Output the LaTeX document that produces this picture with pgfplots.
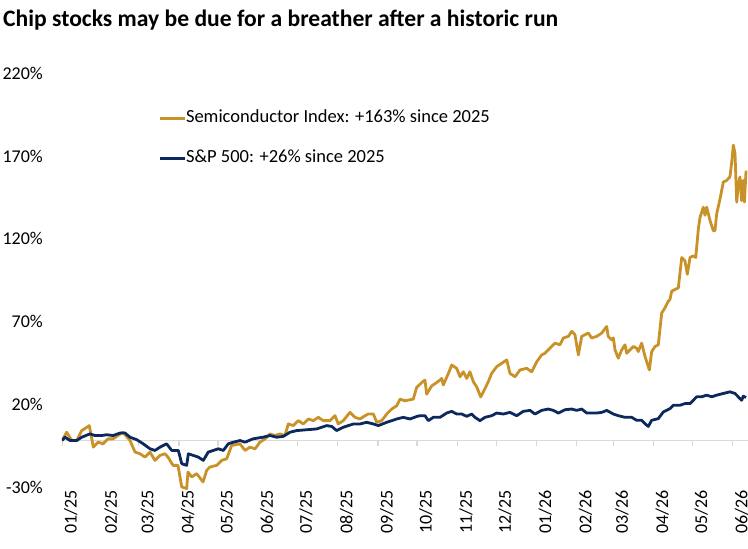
\documentclass[border=0pt]{standalone}
\usepackage{pgfplots}
\pgfplotsset{compat=1.18}
\usepackage{fontspec}
\setmainfont{Carlito}
\definecolor{gold}{RGB}{201,146,40}
\definecolor{navy}{RGB}{12,40,92}
\definecolor{zeroline}{RGB}{217,217,217}
\begin{document}
\begin{tikzpicture}
\useasboundingbox (0,0) rectangle (748pt,549pt);
\node[anchor=base west, inner sep=0pt, font=\fontsize{23.6}{28}\selectfont\bfseries] at (3pt,549pt-26.7pt) {Chip stocks may be due for a breather after a historic run};
\begin{axis}[
  at={(62pt,58.8pt)}, anchor=south west,
  scale only axis, width=686.4pt, height=414pt,
  xmin=0, xmax=528, ymin=-30, ymax=220,
  axis line style={draw=none},
  tick style={draw=none},
  xtick={0,31,59,90,120,151,181,212,243,273,304,334,365,396,424,455,485,516},
  xticklabels={01/25,02/25,03/25,04/25,05/25,06/25,07/25,08/25,09/25,10/25,11/25,12/25,01/26,02/26,03/26,04/26,05/26,06/26},
  xticklabel style={rotate=90, anchor=east, inner sep=0pt, yshift=-11.5pt, text height=0.63em, text depth=0pt, font=\fontsize{18}{21}\selectfont},
  ytick={-30,20,70,120,170,220},
  yticklabels={-30\%,20\%,70\%,120\%,170\%,220\%},
  yticklabel style={anchor=east, inner sep=0pt, xshift=-19pt, text height=0.63em, text depth=0pt, font=\fontsize{18}{21}\selectfont},
  legend style={at={(0.1399,0.850)}, anchor=west, draw=none, fill=none, inner sep=0pt,
    font=\fontsize{18.5}{22}\selectfont, row sep=24pt,
    nodes={inner sep=0pt, text height=12pt, text depth=4pt}},
  legend cell align=left,
  /tikz/every even column/.append style={column sep=5pt},
]
\addplot[zeroline, line width=1.2pt, forget plot] coordinates {(0,0) (528,0)};
\addplot[ycomb, zeroline, line width=1.2pt, forget plot] coordinates {(0,-3.6) (31,-3.6) (59,-3.6) (90,-3.6) (120,-3.6) (151,-3.6) (181,-3.6) (212,-3.6) (243,-3.6) (273,-3.6) (304,-3.6) (334,-3.6) (365,-3.6) (396,-3.6) (424,-3.6) (455,-3.6) (485,-3.6) (516,-3.6)};
\addplot[gold, line width=2.8pt, line join=round, legend image code/.code={\draw[gold, line width=2.8pt] (0pt,0pt) -- (25pt,0pt);}] coordinates {
(0,0) (3.6,5) (7.5,0) (11.3,0) (15.2,6) (21,9) (24.1,-4) (27.9,-1) (31.5,-2) (35.4,1) (39.2,1) (46.9,5) (52.3,0) (56.2,-7) (60,-8) (63.8,-10) (67.7,-7) (71.5,-12) (75.4,-9) (79.2,-8) (81.5,-10) (85.4,-15) (89.2,-15) (92.1,-28) (95.9,-29) (96.9,-19) (99.8,-22) (103.6,-20) (108.5,-25) (111.3,-18) (113.8,-16) (119,-15) (122.8,-12) (126.7,-11) (130.5,-3) (136.9,-2) (140.8,-6) (144.6,-4) (148.5,-5) (152.3,-1) (156.2,1) (160,4) (163.8,3) (167.7,4) (171.5,3) (174.1,10) (177.9,9) (181.8,12) (185.6,10) (189.5,13) (193.3,12) (197.2,14) (201,12) (206.2,12) (210,15) (212.5,10) (216.4,12) (221.5,17) (225.4,14) (229.2,13) (233.1,15) (235.6,16) (239.5,16) (242.1,11) (245.9,12) (249.8,16) (253.6,19) (257.5,21) (260,25) (263.8,24) (270.2,25) (272.8,32) (276.7,35) (279.2,36.5) (280.5,28) (284.4,33) (288.2,35) (290.8,36.5) (292.1,37.5) (293.3,33.5) (297.2,40.5) (299.8,45.6) (303.6,43.6) (306.2,38.5) (308.7,41.5) (311.3,37.5) (313.8,41.5) (316.4,35.5) (319,32.4) (322.1,26.3) (325.4,31.4) (327.9,35.5) (330.5,40.5) (334.4,44.6) (338.2,46.6) (342.1,48.7) (344.6,40.5) (348.5,38.5) (352.3,42.6) (357.5,43.6) (361.3,41.5) (365.2,47.6) (369,51.7) (371.5,52.7) (375.4,55.8) (379.2,58.8) (383.1,57.8) (385.6,61.9) (389.5,62.9) (392.1,65.9) (394.6,63.9) (397.2,51.7) (399.8,62.9) (402.3,63.9) (404.8,64.9) (407.5,61.9) (411.3,62.9) (415.2,64.9) (419,68.9) (420.2,62.8) (422.8,60.8) (424.1,62) (425.4,54.7) (427.9,49.7) (430.5,54.7) (433.1,57.8) (434.4,52.7) (436.9,54.7) (439.5,56.8) (442.1,55.7) (443.3,53.7) (445.9,58.8) (448.5,50.7) (451.8,42.6) (453.6,53.7) (456.2,56.8) (458.7,57.8) (461.3,77) (463.8,80.1) (466.4,84.1) (467.7,85.2) (469,90.2) (471.5,91.2) (474.1,92.2) (476.7,110.5) (479.2,108.5) (481,100.4) (483.1,110.5) (485.6,111.5) (487.5,110.5) (489.5,127.7) (490.8,134.8) (493.3,140.9) (494.6,136) (495.9,140.9) (498.5,132.8) (501,126.7) (502.3,126.7) (503.6,136.9) (506.2,146) (508.7,156.1) (511.3,157.1) (513.8,159.2) (515.2,168.3) (516.4,178.4) (517.7,173.4) (519,143.9) (520.2,154.1) (521.5,159.2) (522.8,144.9) (524.1,157.1) (524.9,144) (526.2,163)
};
\addlegendentry{Semiconductor Index: +163\% since 2025}
\addplot[navy, line width=2.8pt, line join=round, legend image code/.code={\draw[navy, line width=2.8pt] (0pt,0pt) -- (25pt,0pt);}] coordinates {
(0,0) (2.3,2) (6.2,0) (11.3,0) (15.2,2) (21.5,4) (25.4,3) (30.5,3) (34.4,3.5) (39.2,3) (44.6,4.5) (48.5,4.5) (52.3,2) (57.5,0.5) (62.5,-2) (67.7,-5) (71.5,-6) (75.4,-4) (80.5,-2) (84.4,-6) (89.5,-6) (92.1,-14) (95.9,-15) (97.2,-8) (101,-9) (104.8,-10) (108.7,-12) (112.5,-7) (116.4,-6) (120.2,-5) (124.1,-6) (127.9,-2) (131.8,-1) (136.9,0) (140.8,-1) (146.9,1) (154.6,2) (160,3) (165.2,2) (170.2,2.5) (175.4,5) (180.5,6) (188.2,6.5) (195.9,7) (203.6,9) (207.5,8.5) (211.3,6) (216.4,8) (224.1,10) (229.2,10) (234.4,11) (239.5,10) (243.3,9) (249.8,11) (257.5,13) (262.5,14) (267.7,13) (272.8,14.5) (275.4,15) (279.2,15) (281.8,12) (285.6,14) (290.8,14) (295.9,16.6) (299.8,17.6) (303.6,16) (307.5,16) (311.3,14.6) (315.2,16) (317.7,14) (321.5,12) (325.4,14) (330.5,15) (334.4,16.6) (339.5,16) (344.6,17) (349.8,15) (354.8,17.6) (360,18.2) (363.8,16) (369,18.2) (374.1,19) (377.9,18.2) (381.8,16.6) (386.9,18.6) (392.1,19) (395.9,18.2) (399.8,19) (403.6,16.6) (407.5,16.6) (411.3,16.6) (415.2,17) (419,18.2) (424.1,16) (427.9,15) (433.1,14) (438.2,14) (442.1,12.2) (445.9,12.2) (448.5,10.1) (451,8.5) (453.6,12.2) (458.7,13.2) (462.5,17.2) (467.7,19.3) (470.2,21.3) (475.4,21.3) (479.2,22.3) (483.1,22.3) (488.2,26.4) (492.1,26.4) (495.9,27.4) (499.8,26.4) (503.6,27.4) (508.7,28.4) (513.8,29.4) (517.7,28.4) (520.2,26.4) (522.8,24.3) (524.1,26.8) (526.2,26)
};
\addlegendentry{S\&P 500: +26\% since 2025}
\end{axis}
\end{tikzpicture}
\end{document}
